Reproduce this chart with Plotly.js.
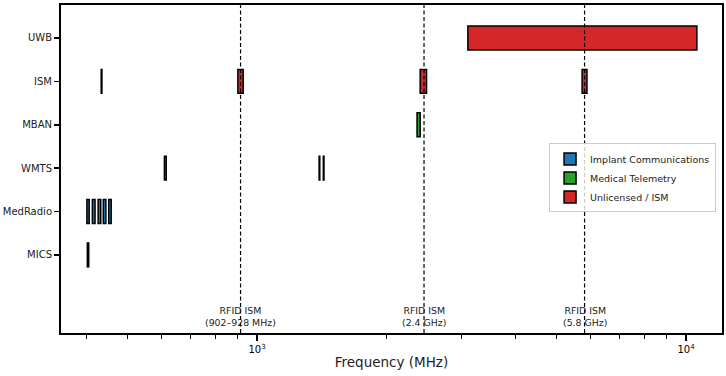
<!DOCTYPE html>
<html>
<head>
<meta charset="utf-8">
<script src="https://cdn.plot.ly/plotly-3.0.1.min.js"></script>
<style>html,body{margin:0;padding:0;background:#fff}#chart{width:726px;height:376px}</style>
</head>
<body>
<div id="chart"></div>
<script>
// Categories (bottom to top)
const bands = ['MICS', 'MedRadio', 'WMTS', 'MBAN', 'ISM', 'UWB'];
// Frequency segments [start, end] in MHz per band
const micsSeg = [[402, 405]];
const medRadioSeg = [[401, 406], [413, 419], [426, 432], [438, 444], [451, 457]];
const wmtsSeg = [[608, 614], [1395, 1400], [1427, 1432]];
const mbanSeg = [[2360, 2400]];
const ismSeg = [[433.05, 434.79], [902, 928], [2400, 2483.5], [5725, 5875]];
const uwbSeg = [[3100, 10600]];
// Groups
const groupNames = ['Implant Communications', 'Medical Telemetry', 'Unlicensed / ISM'];
const groupColors = ['#1f77b4', '#2ca02c', '#d62728'];
const groupBands = [['MICS', 'MedRadio'], ['WMTS', 'MBAN'], ['ISM', 'UWB']];
const segByBand = {MICS: micsSeg, MedRadio: medRadioSeg, WMTS: wmtsSeg, MBAN: mbanSeg, ISM: ismSeg, UWB: uwbSeg};
// Reference lines
const refFreqs = [915, 2450, 5800];
const refLabels = ['RFID ISM<br>(902–928 MHz)', 'RFID ISM<br>(2.4 GHz)', 'RFID ISM<br>(5.8 GHz)'];
// Axis ticks
const majorTicks = [1000, 10000];
const majorTickText = ['10<sup>3</sup>', '10<sup>4</sup>'];
const minorTicks = [400, 500, 600, 700, 800, 900, 2000, 3000, 4000, 5000, 6000, 7000, 8000, 9000];

const traces = groupNames.map((name, gi) => {
  const y = [], base = [], len = [];
  groupBands[gi].forEach(b => {
    segByBand[b].forEach(s => { y.push(bands.indexOf(b)); base.push(s[0]); len.push(s[1] - s[0]); });
  });
  return {
    type: 'bar', orientation: 'h', name: name, y: y, base: base, x: len, width: 0.55,
    marker: {color: groupColors[gi], line: {color: '#000', width: 1.5}},
    hoverinfo: 'skip'
  };
});

const shapes = refFreqs.map(f => ({
  type: 'line', xref: 'x', yref: 'paper', x0: f, x1: f, y0: 0, y1: 1,
  line: {color: '#000', width: 1.2, dash: '4px,2.5px'}, layer: 'above'
}));
const annotations = refFreqs.map((f, i) => ({
  x: Math.log10(f), y: -1.72, xref: 'x', yref: 'y', text: refLabels[i], showarrow: false,
  xanchor: 'center', yanchor: 'bottom', font: {size: 9.4, color: '#222'}, align: 'center'
}));

const layout = {
  width: 726, height: 376,
  margin: {l: 61, r: 4, t: 5, b: 43},
  font: {family: 'DejaVu Sans, sans-serif', size: 10, color: '#000'},
  paper_bgcolor: '#fff', plot_bgcolor: '#fff',
  barmode: 'overlay', bargap: 0,
  showlegend: true,
  legend: {
    x: 0.991, y: 0.578, xanchor: 'right', yanchor: 'top',
    bgcolor: 'rgba(255,255,255,0.8)', bordercolor: '#cccccc', borderwidth: 1,
    font: {size: 9.5, color: '#222'}, tracegroupgap: 0, itemwidth: 30
  },
  xaxis: {
    type: 'log', range: [Math.log10(349), Math.log10(12130)],
    showgrid: false, zeroline: false,
    showline: true, linecolor: '#000', linewidth: 2, mirror: true,
    ticks: 'outside', ticklen: 6, tickwidth: 1.5, tickcolor: '#000',
    tickmode: 'array', tickvals: majorTicks, ticktext: majorTickText,
    tickfont: {size: 10},
    minor: {tickmode: 'array', tickvals: minorTicks, ticks: 'outside', ticklen: 3.5, tickwidth: 1, tickcolor: '#000'},
    title: {text: 'Frequency (MHz)', font: {size: 13.5, color: '#222'}, standoff: 4}
  },
  yaxis: {
    range: [-1.8, 5.76], showgrid: false, zeroline: false,
    showline: true, linecolor: '#000', linewidth: 2, mirror: true,
    ticks: 'outside', ticklen: 5, tickwidth: 1.5, tickcolor: '#000',
    tickmode: 'array', tickvals: bands.map((b, i) => i), ticktext: bands,
    tickfont: {size: 10, color: '#222'}
  },
  shapes: shapes,
  annotations: annotations
};

Plotly.newPlot('chart', traces, layout, {displayModeBar: false, staticPlot: true});
</script>
</body>
</html>
